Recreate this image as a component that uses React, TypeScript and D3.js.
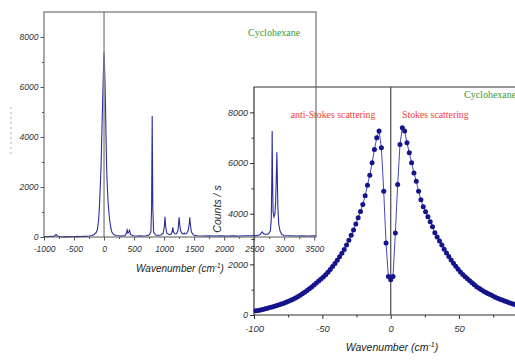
import * as d3 from 'd3';
import React, { useEffect, useRef } from 'react';

// tick labels
const backTicksX = [-1000, -500, 0, 500, 1000, 1500, 2000, 2500, 3000, 3500];
const backTicksY = [0, 2000, 4000, 6000, 8000];
const insetTicksX = [-100, -50, 0, 50];
const insetTicksY = [0, 2000, 4000, 6000, 8000];

// full Raman spectrum (back panel): wavenumber / counts
const spectrumShift = [
  -1000, -950, -900, -850, -820, -800, -780, -750, -700, -650, -600, -550, -500, -450, -400, -350,
  -300, -250, -200, -160, -130, -110, -90, -75, -65, -50, -38, -30, -22, -12, -5, 0, 5, 12, 22, 33,
  45, 55, 70, 88, 110, 130, 160, 200, 250, 300, 350, 370, 385, 398, 412, 426, 440, 480, 550, 600,
  650, 700, 750, 780, 792, 802, 812, 825, 860, 900, 950, 985, 1003, 1015, 1027, 1045, 1090, 1120,
  1135, 1145, 1155, 1180, 1205, 1230, 1240, 1250, 1260, 1275, 1300, 1322, 1335, 1348, 1370, 1400,
  1418, 1428, 1438, 1455, 1490, 1550, 1650, 1750, 1850, 1950, 2050, 2150, 2250, 2350, 2450, 2550,
  2600, 2620, 2635, 2650, 2670, 2700, 2740, 2770, 2785, 2795, 2800, 2806, 2815, 2830, 2845, 2858,
  2870, 2878, 2885, 2895, 2910, 2930, 2960, 3000, 3100, 3200, 3300, 3400, 3500, 3530
];
const spectrumCounts = [
  20, 10, 30, 20, 50, 100, 50, 20, 0, 15, 5, 20, 10, 25, 15, 30,
  25, 40, 60, 110, 180, 300, 700, 1300, 1900, 2800, 4000, 4800, 5500, 6500, 7100, 7400, 7100, 6500, 5500, 4000,
  2600, 2000, 1300, 800, 400, 200, 100, 60, 50, 40, 60, 150, 280, 150, 200, 270, 100, 50, 40, 50,
  40, 50, 80, 200, 1200, 4840, 1200, 200, 80, 60, 80, 150, 400, 810, 400, 150, 90, 120,
  220, 390, 220, 120, 130, 250, 500, 790, 500, 250, 130, 120, 160, 120, 130, 250,
  500, 790, 500, 200, 80, 50, 40, 50, 40, 50, 40, 50, 40, 50, 50, 60,
  100, 180, 210, 150, 120, 100, 130, 250, 700, 2500, 4240, 2500, 1000, 800, 900, 1400,
  2500, 3390, 2500, 1200, 500, 250, 100, 60, 50, 40, 50, 40, 50, 40
];

// low-wavenumber detail (front panel): wavenumber / counts
const insetShift = [
  -98.6, -96.9, -95.2, -93.5, -91.8, -90.1, -88.4, -86.7, -85.0, -83.3, -81.6, -79.9, -78.2, -76.5,
  -74.8, -73.1, -71.4, -69.7, -68.0, -66.3, -64.6, -62.9, -61.2, -59.5, -57.8, -56.1, -54.4, -52.7,
  -51.0, -49.3, -47.6, -45.9, -44.2, -42.5, -40.8, -39.1, -37.4, -35.7, -34.0, -32.3, -30.6, -28.9,
  -27.2, -25.5, -23.8, -22.1, -20.4, -18.7, -17.0, -15.3, -13.6, -11.9, -10.2, -8.5, -6.8, -5.1,
  -3.4, -1.7, 0, 1.7, 3.4, 5.1, 6.8, 8.5, 10.2, 11.9, 13.6, 15.3, 17.0, 18.7, 20.4, 22.1, 23.8,
  25.5, 27.2, 28.9, 30.6, 32.3, 34.0, 35.7, 37.4, 39.1, 40.8, 42.5, 44.2, 45.9, 47.6, 49.3, 51.0,
  52.7, 54.4, 56.1, 57.8, 59.5, 61.2, 62.9, 64.6, 66.3, 68.0, 69.7, 71.4, 73.1, 74.8, 76.5, 78.2,
  79.9, 81.6, 83.3, 85.0, 86.7, 88.4, 90.1, 91.8, 93.5, 95.2, 96.9, 98.6
];
const insetCounts = [
  165, 180, 198, 218, 242, 268, 292, 318, 345, 372, 400, 430, 465, 500,
  540, 580, 625, 675, 725, 780, 840, 900, 965, 1035, 1105, 1180, 1260, 1340,
  1420, 1500, 1590, 1690, 1800, 1910, 2030, 2160, 2300, 2440, 2590, 2760, 2950, 3150,
  3360, 3590, 3840, 4090, 4360, 4710, 5120, 5520, 6010, 6530, 7000, 7260, 6600, 4880,
  2840, 1520, 1390, 1520, 3240, 5150, 6730, 7390, 7260, 6800, 6400, 6010, 5610, 5280, 4880, 4550, 4270,
  4080, 3880, 3680, 3480, 3250, 3080, 2920, 2760, 2600, 2450, 2310, 2170, 2040, 1920, 1810, 1700,
  1600, 1510, 1430, 1350, 1270, 1190, 1120, 1055, 995, 940, 890, 840, 795, 750, 705, 665,
  625, 590, 555, 520, 485, 450, 420, 390, 365, 340, 315, 295
];

const tickFont = 'Liberation Sans, Arial, sans-serif';
const serif = 'Liberation Serif, Times New Roman, serif';

const styleAxis = (g, color, size) => {
  g.select('.domain').remove();
  g.selectAll('line').attr('stroke', color);
  g.selectAll('text')
    .attr('font-family', tickFont)
    .attr('font-style', 'italic')
    .attr('font-size', size)
    .attr('fill', '#333');
};

const axisTitle = (g, x, y, size, rotate) => {
  const t = g.append('text')
    .attr('font-family', tickFont)
    .attr('font-style', 'italic')
    .attr('font-size', size)
    .attr('fill', '#222')
    .attr('text-anchor', 'middle')
    .attr('transform', 'translate(' + x + ',' + y + ')' + (rotate ? ' rotate(-90)' : ''));
  return t;
};

const drawInset = (svg) => {
  const g = svg.append('g');
  const x = d3.scaleLinear().domain([-100, 100]).range([254, 527.4]);
  const y = d3.scaleLinear().domain([0, 9000]).range([315, 87]);
  const axisColor = '#333';

  // minor ticks
  g.append('g').attr('transform', 'translate(0,315)')
    .call(d3.axisBottom(x).tickValues(d3.range(-75, 100, 50)).tickSize(2.5).tickFormat(() => ''))
    .call((s) => styleAxis(s, axisColor, 9));
  g.append('g').attr('transform', 'translate(254,0)')
    .call(d3.axisLeft(y).tickValues(d3.range(1000, 9000, 2000)).tickSize(2.5).tickFormat(() => ''))
    .call((s) => styleAxis(s, axisColor, 9));

  g.append('g').attr('transform', 'translate(0,315)')
    .call(d3.axisBottom(x).tickValues(insetTicksX).tickSize(4).tickPadding(6).tickFormat((d) => String(d)))
    .call((s) => styleAxis(s, axisColor, 9.5));
  g.append('g').attr('transform', 'translate(254,0)')
    .call(d3.axisLeft(y).tickValues(insetTicksY).tickSize(4).tickPadding(2).tickFormat((d) => String(d)))
    .call((s) => styleAxis(s, axisColor, 9));

  // frame
  g.append('path')
    .attr('d', 'M' + x(100) + ',' + y.range()[1] + 'H' + x(-100) + 'V' + y(0) + 'H' + x(100))
    .attr('fill', 'none').attr('stroke', axisColor).attr('stroke-width', 1.2);
  g.append('line')
    .attr('x1', x(0)).attr('x2', x(0)).attr('y1', y.range()[1]).attr('y2', y(0))
    .attr('stroke', '#555').attr('stroke-width', 1.3);

  const pts = insetShift.map((s, i) => ({ s, c: insetCounts[i] }));
  const line = d3.line().x((d) => x(d.s)).y((d) => y(d.c));
  g.append('path').datum(pts).attr('d', line)
    .attr('fill', 'none').attr('stroke', '#4848b8').attr('stroke-width', 1);
  g.selectAll('.dot').data(pts).enter().append('circle')
    .attr('class', 'dot')
    .attr('cx', (d) => x(d.s)).attr('cy', (d) => y(d.c)).attr('r', 2.5)
    .attr('fill', '#14148c');

  const t1 = axisTitle(g, 392, 351, 10.5, false);
  t1.append('tspan').text('Wavenumber (cm');
  t1.append('tspan').attr('dy', -4).attr('font-size', 7).text('-1');
  t1.append('tspan').attr('dy', 4).text(')');
  axisTitle(g, 221, 209, 10.5, true).text('Counts / s');

  g.append('text').attr('x', 464).attr('y', 98).attr('font-family', serif).attr('font-size', 10)
    .attr('fill', '#3a9a3a').text('Cyclohexane');
  g.append('text').attr('x', 333).attr('y', 118).attr('font-family', serif).attr('font-size', 9.8)
    .attr('text-anchor', 'middle').attr('fill', '#f03c3c').text('anti-Stokes scattering');
  g.append('text').attr('x', 402).attr('y', 118).attr('font-family', serif).attr('font-size', 9.8)
    .attr('fill', '#f03c3c').text('Stokes scattering');
};

const drawBack = (svg) => {
  const g = svg.append('g');
  const x = d3.scaleLinear().domain([-1000, 3530]).range([44, 316]);
  const y = d3.scaleLinear().domain([0, 9000]).range([237, 12]);
  const axisColor = '#555';

  g.append('g').attr('transform', 'translate(0,237)')
    .call(d3.axisBottom(x).tickValues(d3.range(-750, 3530, 500)).tickSize(2).tickFormat(() => ''))
    .call((s) => styleAxis(s, axisColor, 8.5));
  g.append('g').attr('transform', 'translate(44,0)')
    .call(d3.axisLeft(y).tickValues(d3.range(1000, 9000, 2000)).tickSize(2).tickFormat(() => ''))
    .call((s) => styleAxis(s, axisColor, 8.5));

  g.append('g').attr('transform', 'translate(0,237)')
    .call(d3.axisBottom(x).tickValues(backTicksX).tickSize(3.5).tickPadding(5).tickFormat((d) => String(d)))
    .call((s) => styleAxis(s, axisColor, 8.5));
  g.append('g').attr('transform', 'translate(44,0)')
    .call(d3.axisLeft(y).tickValues(backTicksY).tickSize(3.5).tickPadding(2).tickFormat((d) => String(d)))
    .call((s) => styleAxis(s, axisColor, 8.5));

  const pts = spectrumShift.map((s, i) => ({ s, c: spectrumCounts[i] }));
  const line = d3.line().x((d) => x(d.s)).y((d) => y(d.c));
  g.append('path').datum(pts).attr('d', line)
    .attr('fill', 'none').attr('stroke', '#2c2c9c').attr('stroke-width', 1.1);

  g.append('line')
    .attr('x1', x(0)).attr('x2', x(0)).attr('y1', 12).attr('y2', 237)
    .attr('stroke', '#8a8a8a').attr('stroke-width', 1.4);

  g.append('rect')
    .attr('x', 44).attr('y', 12).attr('width', 272).attr('height', 225)
    .attr('fill', 'none').attr('stroke', axisColor).attr('stroke-width', 1);

  const t = axisTitle(g, 180, 272, 10, false);
  t.append('tspan').text('Wavenumber (cm');
  t.append('tspan').attr('dy', -4).attr('font-size', 6.5).text('-1');
  t.append('tspan').attr('dy', 4).text(')');

  g.append('text').attr('x', 248).attr('y', 36)
    .attr('font-family', serif).attr('font-size', 10)
    .attr('fill', '#3a9a3a').text('Cyclohexane');

  // cut-off edge mark on the far left
  g.append('line').attr('x1', 11).attr('x2', 11).attr('y1', 107).attr('y2', 156)
    .attr('stroke', '#aaa').attr('stroke-dasharray', '2,3');
};

const App = () => {
  const ref = useRef(null);

  useEffect(() => {
    const svg = d3.select(ref.current);
    svg.selectAll('*').remove();
    drawInset(svg);
    drawBack(svg);
  }, []);

  return (
    <svg ref={ref} width={515} height={363}
      style={{ position: 'absolute', left: 0, top: 0, background: '#fff' }}>
    </svg>
  );
};

export default App;
